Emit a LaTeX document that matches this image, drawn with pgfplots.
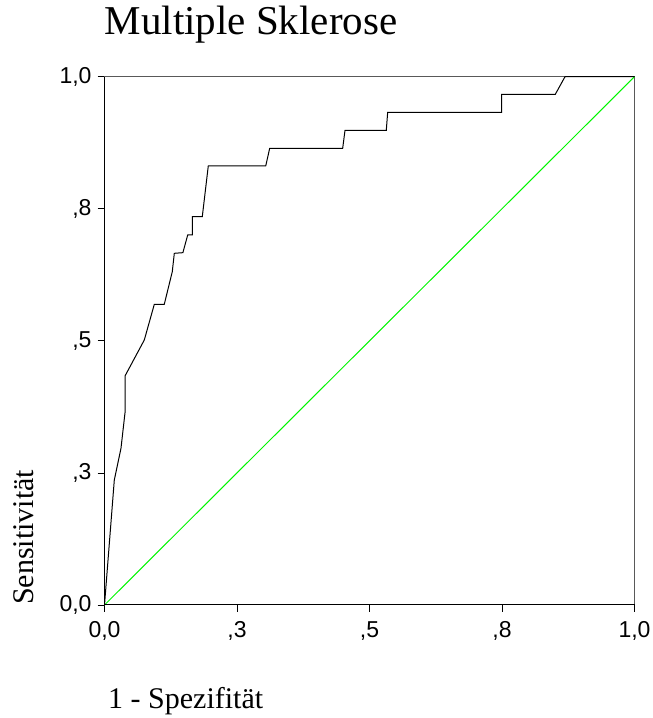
\documentclass[border=0pt]{standalone}
\usepackage{pgfplots}
\pgfplotsset{compat=1.18}
\usepackage{fontspec}
\setmainfont{Liberation Serif}
\newfontfamily\arialfont{Liberation Sans}
\begin{document}
\begin{tikzpicture}
\path[use as bounding box] (0,0) rectangle (653pt,718pt);
\begin{axis}[
  at={(104.5pt,113pt)}, anchor=south west,
  scale only axis, width=530pt, height=528.3pt,
  xmin=0, xmax=1, ymin=0, ymax=1,
  axis line style={draw=black!65, line width=1pt},
  xtick={0,0.25,0.5,0.75,1},
  ytick={0,0.25,0.5,0.75,1},
  xticklabels={{0,0},{,3},{,5},{,8},{1,0}},
  yticklabels={{0,0},{,3},{,5},{,8},{1,0}},
  tick align=outside, xtick pos=bottom, ytick pos=left,
  major tick length=7pt,
  tick style={black, line width=0.8pt},
  tick label style={font=\arialfont\fontsize{23}{27}\selectfont, inner sep=0pt},
  yticklabel style={xshift=-5.8pt},
  xticklabel style={yshift=-9pt},
  title={Multiple Sklerose},
  title style={at={(axis description cs:0,1.0676)}, anchor=base west, inner sep=0pt, font=\fontsize{41}{49}\selectfont},
  xlabel={1 - Spezifität},
  xlabel style={at={(axis description cs:0.0066,-0.195)}, anchor=base west, inner sep=0pt, font=\fontsize{30}{36}\selectfont},
  ylabel={Sensitivität},
  ylabel style={at={(axis description cs:-0.1349,0)}, anchor=base west, rotate=0, inner sep=0pt, font=\fontsize{30}{36}\selectfont},
  clip=false,
]
\addplot[color={rgb,255:red,0;green,245;blue,0}, line width=1pt] coordinates {(0,0) (1,1)};
\addplot[black, line width=1pt] coordinates {
(0,0)
(0.0185,0.2366)
(0.0311,0.2966)
(0.0387,0.3640)
(0.0387,0.4335)
(0.0751,0.5016)
(0.0940,0.5692)
(0.1128,0.5692)
(0.1279,0.6309)
(0.1317,0.6657)
(0.1479,0.6669)
(0.1570,0.7004)
(0.1657,0.7004)
(0.1657,0.7350)
(0.1845,0.7350)
(0.1958,0.8310)
(0.3042,0.8310)
(0.3117,0.8645)
(0.4494,0.8645)
(0.4538,0.8985)
(0.5317,0.8985)
(0.5343,0.9326)
(0.7494,0.9326)
(0.7494,0.9667)
(0.8506,0.9667)
(0.8689,1.0)
(1,1)
};
\draw[black, line width=1pt] (rel axis cs:0,1) -- (rel axis cs:0,0) -- (rel axis cs:1,0);
\end{axis}
\end{tikzpicture}
\end{document}
